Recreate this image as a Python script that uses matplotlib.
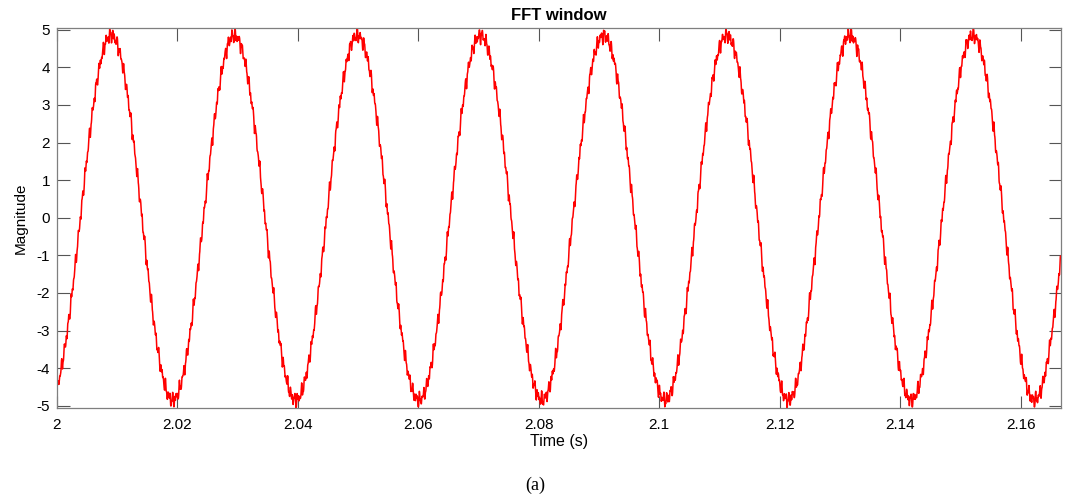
import numpy as np
import matplotlib
matplotlib.use("Agg")
import matplotlib.pyplot as plt
from matplotlib.ticker import FuncFormatter


# values
t_start = 2.0            # s, left edge of the window
t_end = 2.1667           # s, right edge
fs = 24000               # samples per second (assumed)
tone_freq = 48.93        # Hz, main tone (peaks ~0.0205 s apart)
tone_amp = 4.85          # main tone amplitude
first_peak = 2.009       # s, time of first peak
ripple_freqs = [1730.0, 2610.0, 3890.0, 5170.0]   # Hz, small high-frequency ripple
ripple_amps = [0.10, 0.08, 0.06, 0.04]
ripple_phases = [0.3, 1.1, 2.0, 0.7]

x_ticks = [2.0, 2.02, 2.04, 2.06, 2.08, 2.1, 2.12, 2.14, 2.16]
y_ticks = [-5, -4, -3, -2, -1, 0, 1, 2, 3, 4, 5]


def main():

	plt.rcParams['font.family'] = ['Liberation Sans', 'DejaVu Sans']
	plt.rcParams['axes.unicode_minus'] = False

	t = np.arange(t_start, t_end, 1.0 / fs)
	y = tone_amp * np.cos(2 * np.pi * tone_freq * (t - first_peak))
	for f, a, p in zip(ripple_freqs, ripple_amps, ripple_phases):
		y = y + a * np.sin(2 * np.pi * f * t + p)

	fig = plt.figure(figsize=(10.71, 4.97), dpi=100)
	ax = fig.add_axes([0.0532, 0.1791, 0.9375, 0.7646])

	ax.plot(t, y, color='#ff0000', linewidth=1.1)

	ax.set_xlim(t_start, t_end)
	ax.set_ylim(y.min(), y.max())
	ax.set_xticks(x_ticks)
	ax.set_yticks(y_ticks)
	ax.xaxis.set_major_formatter(FuncFormatter(lambda v, pos: '%g' % round(v, 4)))
	ax.yaxis.set_major_formatter(FuncFormatter(lambda v, pos: '%g' % v))

	ax.tick_params(direction='in', length=9, width=0.8, colors='#555555',
				   labelcolor='black', labelsize=11, top=True, right=True)
	ax.tick_params(axis='x', pad=7)
	ax.tick_params(axis='y', pad=5)
	for s in ax.spines.values():
		s.set_color('#7f7f7f')
		s.set_linewidth(0.9)

	ax.set_title('FFT window', fontsize=12, fontweight='bold', pad=6)
	ax.set_xlabel('Time (s)', fontsize=11.5, labelpad=2)
	ax.set_ylabel('Magnitude', fontsize=11, labelpad=6)

	fig.text(0.5, 0.024, '(a)', ha='center', va='center', fontsize=13,
			 family=['Liberation Serif', 'DejaVu Serif'])

	fig.savefig('out.png', dpi=100)


main()
